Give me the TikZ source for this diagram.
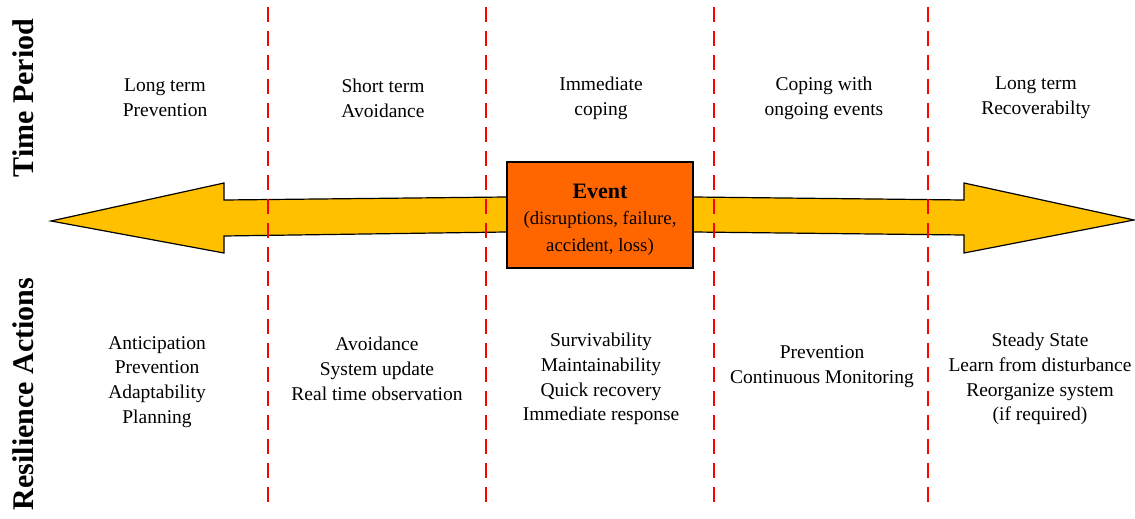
\documentclass[tikz,border=0pt]{standalone}
\usepackage{fontspec}
\setmainfont{Liberation Serif}
\usetikzlibrary{backgrounds}
\begin{document}
\begin{tikzpicture}[x=1pt,y=-1pt,
  divider/.style={draw=red,line width=1.4pt,dash pattern=on 15pt off 9pt},
  bigarrow/.style={draw=black,line width=1.2pt,fill={rgb,255:red,255;green,192;blue,0},line join=miter},
  eventbox/.style={draw=black,line width=1.3pt,fill={rgb,255:red,255;green,102;blue,0},
    minimum width=186pt,minimum height=106pt,inner sep=0pt,align=center,
    font=\fontsize{18.8}{26.5}\selectfont},
  phase/.style={align=center,font=\fontsize{19.5}{24.8}\selectfont,inner sep=0pt},
  sidelabel/.style={rotate=90,font=\bfseries\fontsize{30}{34}\selectfont,inner sep=0pt}]
\useasboundingbox (0,0) rectangle (1135,519);

% vertical phase dividers
\foreach \xx/\nm in {268/d1,486/d2,714/d3,928/d4}{
  \coordinate (\nm top) at (\xx,7);
  \coordinate (\nm bot) at (\xx,506);
  \draw[divider] (\nm top) -- (\nm bot);
}

% event in the middle of the time line
\node[eventbox] (ev) at (600,215) {%
  {\bfseries\fontsize{22}{26.5}\selectfont\rule{0pt}{23pt}Event}\\
  (disruptions, failure,\\
  accident, loss)};

% double arrow behind the event: past to the left, future to the right
\begin{pgfonlayer}{background}
\draw[bigarrow] (ev.west |- 0,197) -- (224,200) -- (224,183) -- (51,221)
  -- (224,253) -- (224,236) -- (ev.west |- 0,232);
\draw[bigarrow] (ev.east |- 0,197) -- (964,200) -- (964,183) -- (1134,220)
  -- (964,253) -- (964,235) -- (ev.east |- 0,232);
\end{pgfonlayer}

% row titles
\node[sidelabel] (tp) at (23,98) {Time Period};
\node[sidelabel] (ra) at (23,394) {Resilience Actions};

% time periods
\node[phase] (t1) at (165,98) {Long term\\Prevention};
\node[phase] (t2) at (383,98) {Short term\\Avoidance};
\node[phase] (t3) at (601,98) {Immediate\\coping};
\node[phase] (t4) at (824,98) {Coping with\\ongoing events};
\node[phase] (t5) at (1036,98) {Long term\\Recoverabilty};

% resilience actions
\node[phase] (a1) at (157,382) {Anticipation\\Prevention\\Adaptability\\Planning};
\node[phase] (a2) at (377,369) {Avoidance\\System update\\Real time observation};
\node[phase] (a3) at (601,379) {Survivability\\Maintainability\\Quick recovery\\Immediate response};
\node[phase] (a4) at (822,367) {Prevention\\Continuous Monitoring};
\node[phase] (a5) at (1040,379) {Steady State\\Learn from disturbance\\Reorganize system\\(if required)};
\end{tikzpicture}
\end{document}
